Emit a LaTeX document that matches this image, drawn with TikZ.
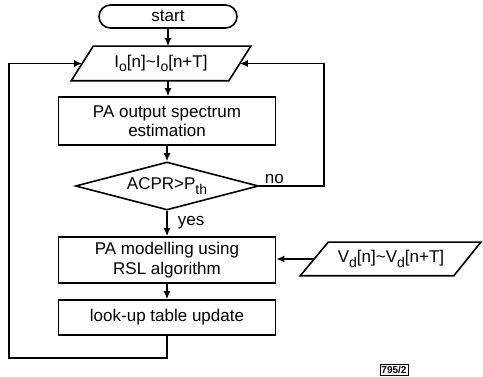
\documentclass[tikz,border=0pt]{standalone}
\usepackage{fontspec}
\setmainfont{Liberation Sans}
\usetikzlibrary{shapes.geometric,arrows.meta}
\newcommand{\lowsub}[1]{\raisebox{-0.5ex}{\fontsize{14}{14}\selectfont #1}}
\begin{document}
\begin{tikzpicture}[x=1pt,y=-1pt,
  line width=1.6pt,
  every node/.style={font=\fontsize{17}{19.5}\selectfont},
  procbox/.style={draw, rectangle, inner sep=0pt, minimum width=217pt, align=center},
  iobox/.style={rectangle, inner sep=0pt},
  termbox/.style={draw, rectangle, rounded corners=11.5pt, inner sep=0pt, minimum width=138pt, minimum height=23pt},
  decbox/.style={draw, diamond, aspect=3.8, inner sep=0pt, minimum width=183pt, minimum height=48pt},
  lbl/.style={inner sep=0pt},
  arr/.style={-{Latex[length=8pt,width=7pt]}},
]
\useasboundingbox (0,0) rectangle (483,377);

\node[termbox] (start) at (168,16.5) {start};
\node[iobox, minimum width=156pt, minimum height=33pt] (io) at (161,63.5)
      {I\lowsub{o}[n]\textasciitilde I\lowsub{o}[n+T]};
\draw[line join=miter] ([xshift=11pt]io.north west) -- ([xshift=11pt]io.north east)
  -- ([xshift=-11pt]io.south east) -- ([xshift=-11pt]io.south west) -- cycle;
\node[procbox, minimum height=48pt] (pa1) at (167,121) {PA output spectrum\\estimation};
\node[decbox] (dec) at (167,186) {ACPR>P\lowsub{th}};
\node[procbox, minimum height=46pt] (pa2) at (167,260) {PA modelling using\\RSL algorithm};
\node[procbox, minimum height=35pt] (lut) at (167,317.5) {look-up table update};
\node[iobox, minimum width=152pt, minimum height=32pt] (vd) at (391,259)
      {V\lowsub{d}[n]\textasciitilde V\lowsub{d}[n+T]};
\draw[line join=miter] ([xshift=14pt]vd.north west) -- ([xshift=13pt]vd.north east)
  -- ([xshift=-14pt]vd.south east) -- ([xshift=-14pt]vd.south west) -- cycle;

\node[lbl, anchor=south west] (nolab) at (264,184) {no};
\node[lbl, anchor=west] (yeslab) at (177,223) {yes};
\node[draw, line width=0.9pt, inner sep=1.5pt, minimum width=28pt, minimum height=11pt,
      font=\fontsize{10}{10}\selectfont\bfseries] (fig) at (394,369.5) {795/2};

\coordinate (lc) at (9,358);
\coordinate (rc) at (324,186);

\draw[arr] (start.south) -- (start.south |- io.north);
\draw[arr] (start.south |- io.south) -- (start.south |- pa1.north);
\draw[arr] (pa1.south) -- (dec.north);
\draw[arr] (dec.south) -- (pa2.north);
\draw[arr] (pa2.south) -- (lut.north);
\draw[arr] (vd.west) -- (vd.west -| pa2.east);
\draw[arr] (dec.east) -- (rc) |- (io.east);
\draw[arr] (lut.south) |- (lc) |- (io.west);
\end{tikzpicture}
\end{document}
